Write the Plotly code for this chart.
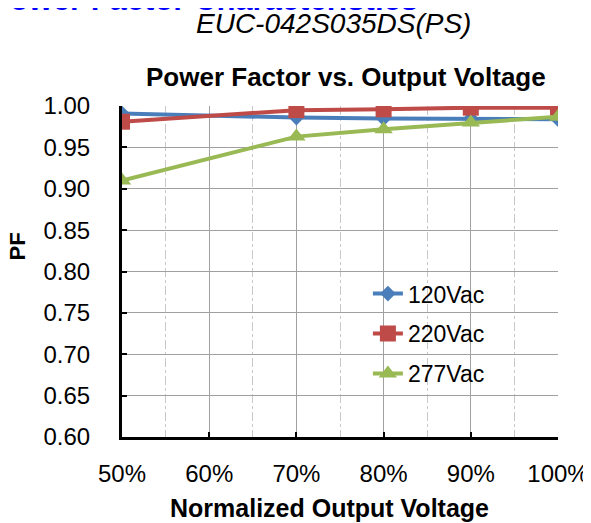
import plotly.graph_objects as go

x_pct = [50, 70, 80, 90, 100]
pf_120 = [0.991, 0.986, 0.985, 0.985, 0.984]
pf_220 = [0.981, 0.995, 0.996, 0.998, 0.998]
pf_277 = [0.910, 0.963, 0.972, 0.980, 0.987]
series_names = ["120Vac", "220Vac", "277Vac"]
x_tickvals = [50, 60, 70, 80, 90, 100]
x_ticktext = ["50%", "60%", "70%", "80%", "90%", "100%"]
y_tickvals = [0.60, 0.65, 0.70, 0.75, 0.80, 0.85, 0.90, 0.95, 1.00]

colors = ["#4A7EBB", "#BE4B48", "#98B954"]
symbols = ["diamond", "square", "triangle-up"]
msizes = [12, 16, 16]

fig = go.Figure()
for i, (name, ys) in enumerate(zip(series_names, [pf_120, pf_220, pf_277])):
    fig.add_trace(go.Scatter(
        x=x_pct, y=ys, name=name, mode="lines+markers",
        line=dict(color=colors[i], width=4),
        marker=dict(symbol=symbols[i], size=msizes[i], color=colors[i]),
        legendgroup=name,
    ))

font_family = "Liberation Sans, Arial, sans-serif"

fig.update_layout(
    width=583, height=515,
    margin=dict(l=114, r=33, t=98, b=86),
    paper_bgcolor="white", plot_bgcolor="white",
    font=dict(family=font_family, size=22, color="black"),
    showlegend=True,
    legend=dict(x=0.564, y=0.498, xanchor="left", yanchor="top",
                bgcolor="rgba(255,255,255,0)", font=dict(size=23),
                tracegroupgap=7),
    xaxis=dict(
        range=[50, 100], tickvals=x_tickvals, ticktext=x_ticktext,
        showgrid=True, gridcolor="#A0A0A0", gridwidth=1,
        showline=True, linecolor="black", linewidth=3,
        ticks="inside", ticklen=5, tickwidth=2, tickcolor="black",
        zeroline=False, ticklabelstandoff=13, automargin=False,
        tickfont=dict(size=24),
        minor=dict(dtick=5, tick0=50, showgrid=True, gridcolor="#C8C8C8",
                   griddash="dashdot", gridwidth=1),
    ),
    yaxis=dict(
        range=[0.6, 1.0], tickvals=y_tickvals, tickformat=".2f",
        showgrid=True, gridcolor="#A0A0A0", gridwidth=1,
        showline=True, linecolor="black", linewidth=3,
        ticks="inside", ticklen=5, tickwidth=2, tickcolor="black",
        zeroline=False, ticklabelstandoff=24, automargin=False,
        tickfont=dict(size=24),
    ),
    annotations=[
        dict(text="<b>Power Factor Characteristics</b>", xref="paper", yref="paper",
             x=0.683, y=1.322, xanchor="right", yanchor="middle", showarrow=False,
             font=dict(size=31, color="#0000FF", family=font_family)),
        dict(text="<i>EUC-042S035DS(PS)</i>", xref="paper", yref="paper",
             x=0.484, y=1.248, xanchor="center", yanchor="middle", showarrow=False,
             font=dict(size=28, color="black", family=font_family)),
        dict(text="<b>Power Factor vs. Output Voltage</b>", xref="paper", yref="paper",
             x=0.514, y=1.088, xanchor="center", yanchor="middle", showarrow=False,
             font=dict(size=26, color="black", family=font_family)),
        dict(text="<b>Normalized Output Voltage</b>", xref="paper", yref="paper",
             x=0.477, y=-0.2145, xanchor="center", yanchor="middle", showarrow=False,
             font=dict(size=25, color="black", family=font_family)),
        dict(text="<b>PF</b>", xref="paper", yref="paper", textangle=-90,
             x=-0.2397, y=0.577, xanchor="center", yanchor="middle", showarrow=False,
             font=dict(size=22, color="black", family=font_family)),
    ],
)

fig.write_html("out.html")
